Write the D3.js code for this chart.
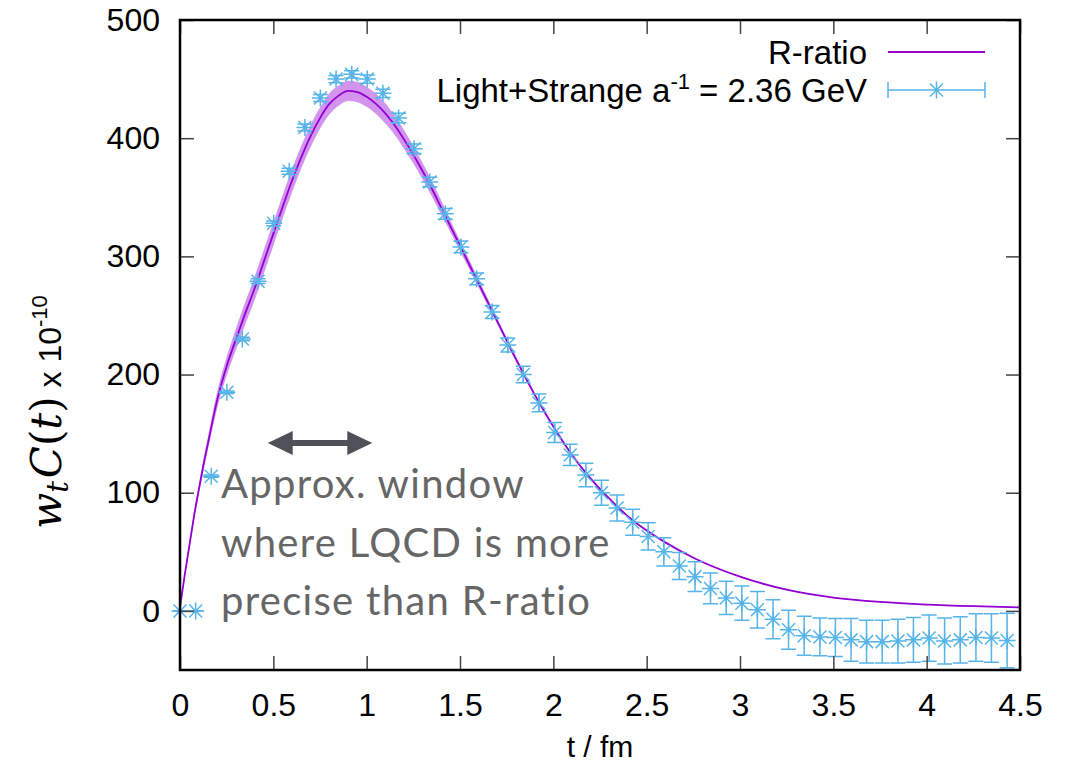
<!DOCTYPE html>
<html>
<head>
<meta charset="utf-8">
<script src="https://cdn.jsdelivr.net/npm/d3@7"></script>
<style>
  body { margin: 0; background: #fff; }
</style>
</head>
<body>
<div id="chart"></div>
<script>
// lattice data: Light+Strange, a^-1 = 2.36 GeV
const latticeT = [0.000, 0.084, 0.167, 0.251, 0.334, 0.418, 0.502, 0.585, 0.669, 0.752,
  0.836, 0.920, 1.003, 1.087, 1.171, 1.254, 1.338, 1.421, 1.505, 1.589,
  1.672, 1.756, 1.839, 1.923, 2.007, 2.090, 2.174, 2.258, 2.341, 2.425,
  2.508, 2.592, 2.675, 2.759, 2.842, 2.926, 3.010, 3.093, 3.177, 3.260,
  3.344, 3.428, 3.511, 3.595, 3.678, 3.762, 3.846, 3.929, 4.013, 4.096,
  4.180, 4.264, 4.347, 4.431];
const latticeV = [0, 0, 114, 185, 230, 279, 328, 372, 409, 434,
  450, 454, 450, 438, 417, 391, 363, 336, 308, 281,
  253, 225, 200, 176, 151, 132, 115, 100, 87, 75,
  63, 50, 38, 29, 19, 11, 6.5, 1, -7, -16,
  -21, -22, -22.5, -24.5, -26, -26, -25.5, -24.5, -23, -25.5,
  -24.5, -22.5, -23, -25];
const latticeErr = [0, 0, 1, 1, 1.5, 2, 2, 2.5, 3, 3,
  3, 3, 3.5, 3.5, 4, 4, 4, 4.5, 5, 5,
  5.5, 6, 7, 7.5, 8.5, 9, 10, 10.5, 11, 11,
  11.5, 12, 11.5, 12.5, 13, 14, 14.5, 15.5, 16.5, 16.5,
  16.5, 16, 16, 18, 18, 18, 18.5, 19, 19.5, 19.5,
  19.5, 20, 20.5, 23];

// R-ratio curve and its error band
const rratioT = [0, 0.025, 0.05, 0.075, 0.1, 0.125, 0.15, 0.2, 0.25, 0.3,
  0.35, 0.4, 0.45, 0.5, 0.55, 0.6, 0.65, 0.7, 0.75, 0.8,
  0.85, 0.9, 0.95, 1.0, 1.05, 1.1, 1.15, 1.2, 1.25, 1.3,
  1.35, 1.4, 1.45, 1.5, 1.6, 1.7, 1.8, 1.9, 2.0, 2.1,
  2.2, 2.3, 2.4, 2.5, 2.6, 2.75, 3.0, 3.25, 3.5, 3.75,
  4.0, 4.25, 4.5];
const rratioV = [3, 30, 55, 80, 102, 123, 142, 179, 207, 230,
  252, 273, 296, 319, 342, 364, 384, 402, 417, 429,
  436, 440, 439, 435, 429, 421, 411, 399, 386, 372,
  357, 341, 325, 309, 277, 245, 213, 183, 156, 132,
  112, 95, 80, 68, 58, 45, 29, 18, 11.3, 7.6,
  5.4, 4, 3];
const rratioErr = [0.5, 1.5, 2.5, 3.5, 4, 5, 5.5, 7, 8, 9,
  9.5, 10, 10, 10, 10, 10, 9.5, 9.5, 9, 9,
  8.5, 8.5, 8.5, 8.5, 8.5, 8.5, 8, 8, 7.5, 7,
  6.5, 6, 5, 4.5, 3.5, 2.5, 2, 1.5, 1.2, 1,
  1, 1, 0.8, 0.8, 0.6, 0.5, 0.4, 0.3, 0.3, 0.2,
  0.2, 0.2, 0.2];

const xTicks = [0, 0.5, 1, 1.5, 2, 2.5, 3, 3.5, 4, 4.5];
const yTicks = [0, 100, 200, 300, 400, 500];
const windowArrow = [0.47, 1.03, 142];
const noteLines = ['Approx. window', 'where LQCD is more', 'precise than R-ratio'];

const W = 1066, H = 766;
const margin = { left: 180, right: 46, top: 20, bottom: 96 };
const violet = '#9400d3';
const sky = '#56b4e9';
const sans = '"Liberation Sans", Arial, Helvetica, sans-serif';

const x = d3.scaleLinear().domain([0, 4.5]).range([margin.left, W - margin.right]);
const y = d3.scaleLinear().domain([-50, 500]).range([H - margin.bottom, margin.top]);

const svg = d3.select('#chart').append('svg').attr('width', W).attr('height', H);

// R-ratio band and line
const rr = rratioT.map((t, i) => ({ t, v: rratioV[i], e: rratioErr[i] }));
const band = d3.area()
  .x((d) => x(d.t))
  .y0((d) => y(d.v - d.e))
  .y1((d) => y(d.v + d.e))
  .curve(d3.curveMonotoneX);
svg.append('path').datum(rr).attr('d', band).attr('fill', violet).attr('fill-opacity', 0.42);

const rline = d3.line().x((d) => x(d.t)).y((d) => y(d.v)).curve(d3.curveMonotoneX);
svg.append('path').datum(rr).attr('d', rline)
  .attr('fill', 'none').attr('stroke', violet).attr('stroke-width', 1.8);

// lattice points with error bars
const pts = latticeT.map((t, i) => ({ t, v: latticeV[i], e: latticeErr[i] }));
const cap = 7.5;
const errPath = (px, lo, hi) =>
  `M${px},${lo}V${hi}M${px - cap},${lo}H${px + cap}M${px - cap},${hi}H${px + cap}`;
const star = (px, py) => {
  const s = 8.5, d = 6.5;
  return `M${px - s},${py}H${px + s}M${px},${py - s}V${py + s}` +
    `M${px - d},${py - d}L${px + d},${py + d}M${px - d},${py + d}L${px + d},${py - d}`;
};

const g = svg.append('g').attr('fill', 'none').attr('stroke', sky).attr('stroke-width', 1.5);
g.selectAll('path.err').data(pts).enter().append('path').attr('class', 'err')
  .attr('d', (d) => errPath(x(d.t), y(d.v - d.e), y(d.v + d.e)));
g.selectAll('path.pt').data(pts).enter().append('path').attr('class', 'pt')
  .attr('d', (d) => star(x(d.t), y(d.v)));

// axes: ticks pointing inward on all four sides
const axisStyle = (sel) => {
  sel.select('.domain').remove();
  sel.selectAll('.tick line').attr('stroke', '#444').attr('stroke-width', 1.5);
  sel.selectAll('.tick text').attr('fill', '#000').style('font-family', sans).style('font-size', '32px');
};
svg.append('g').attr('transform', `translate(0,${y(-50)})`)
  .call(d3.axisBottom(x).tickValues(xTicks).tickSize(-14).tickPadding(23).tickFormat(d3.format('')))
  .call(axisStyle);
svg.append('g').attr('transform', `translate(0,${y(500)})`)
  .call(d3.axisTop(x).tickValues(xTicks).tickSize(-14).tickFormat(''))
  .call(axisStyle);
svg.append('g').attr('transform', `translate(${x(0)},0)`)
  .call(d3.axisLeft(y).tickValues(yTicks).tickSize(-14).tickPadding(20))
  .call(axisStyle);
svg.append('g').attr('transform', `translate(${x(4.5)},0)`)
  .call(d3.axisRight(y).tickValues(yTicks).tickSize(-14).tickFormat(''))
  .call(axisStyle);

svg.append('rect')
  .attr('x', x(0)).attr('y', y(500))
  .attr('width', x(4.5) - x(0)).attr('height', y(-50) - y(500))
  .attr('fill', 'none').attr('stroke', '#000').attr('stroke-width', 2.5);

// axis titles
svg.append('text')
  .attr('x', (x(0) + x(4.5)) / 2).attr('y', 757)
  .attr('text-anchor', 'middle')
  .style('font-family', sans).style('font-size', '30px')
  .text('t / fm');

const mathFont = '"DejaVu Serif", "Liberation Serif", serif';
const yt = svg.append('text')
  .attr('transform', 'translate(61,412) rotate(-90)')
  .attr('text-anchor', 'middle')
  .style('font-family', mathFont)
  .style('font-size', '42px');
yt.append('tspan').style('font-style', 'italic').text('w');
yt.append('tspan').style('font-style', 'italic').style('font-size', '29px').attr('dy', 7).text('t');
yt.append('tspan').style('font-style', 'italic').attr('dy', -7).attr('dx', 3).text('C');
yt.append('tspan').text('(');
yt.append('tspan').style('font-style', 'italic').text('t');
yt.append('tspan').text(')');
yt.append('tspan').style('font-family', sans).style('font-size', '32px').text(' x 10');
yt.append('tspan').style('font-family', sans).style('font-size', '22px').attr('dy', -14).text('-10');

// legend
const lg = svg.append('g').style('font-family', sans).style('font-size', '33px');
const lx0 = 888, lx1 = 985, ly1 = 52, ly2 = 90;
lg.append('text').attr('x', 867).attr('y', ly1).attr('dy', '0.35em')
  .attr('text-anchor', 'end').text('R-ratio');
lg.append('line').attr('x1', lx0).attr('x2', lx1).attr('y1', ly1).attr('y2', ly1)
  .attr('stroke', violet).attr('stroke-width', 1.8);
const t2 = lg.append('text').attr('x', 867).attr('y', ly2).attr('dy', '0.35em').attr('text-anchor', 'end');
t2.append('tspan').text('Light+Strange a');
t2.append('tspan').style('font-size', '22px').attr('dy', -13).text('-1');
t2.append('tspan').attr('dy', 13).text(' = 2.36 GeV');
lg.append('path')
  .attr('d', `M${lx0},${ly2}H${lx1}M${lx0},${ly2 - 8}V${ly2 + 8}M${lx1},${ly2 - 8}V${ly2 + 8}` +
    star((lx0 + lx1) / 2, ly2))
  .attr('fill', 'none').attr('stroke', sky).attr('stroke-width', 1.5);

// window arrow + note
const [wa, wb, wl] = windowArrow;
const ax0 = x(wa), ax1 = x(wb), ay = y(wl), hl = 25, hh = 12, sw = 3;
const arrow = d3.path();
arrow.moveTo(ax0, ay);
arrow.lineTo(ax0 + hl, ay - hh);
arrow.lineTo(ax0 + hl, ay - sw);
arrow.lineTo(ax1 - hl, ay - sw);
arrow.lineTo(ax1 - hl, ay - hh);
arrow.lineTo(ax1, ay);
arrow.lineTo(ax1 - hl, ay + hh);
arrow.lineTo(ax1 - hl, ay + sw);
arrow.lineTo(ax0 + hl, ay + sw);
arrow.lineTo(ax0 + hl, ay + hh);
arrow.closePath();
svg.append('path').attr('d', arrow.toString()).attr('fill', '#4e5258');

svg.append('g')
  .selectAll('text').data(noteLines).enter().append('text')
  .attr('x', 221).attr('y', (d, i) => 498 + i * 58.5)
  .style('font-family', 'Lato, "Open Sans", sans-serif')
  .style('font-size', '40px')
  .style('font-weight', 400)
  .style('letter-spacing', '1.3px')
  .attr('fill', '#666')
  .text((d) => d);
</script>
</body>
</html>
